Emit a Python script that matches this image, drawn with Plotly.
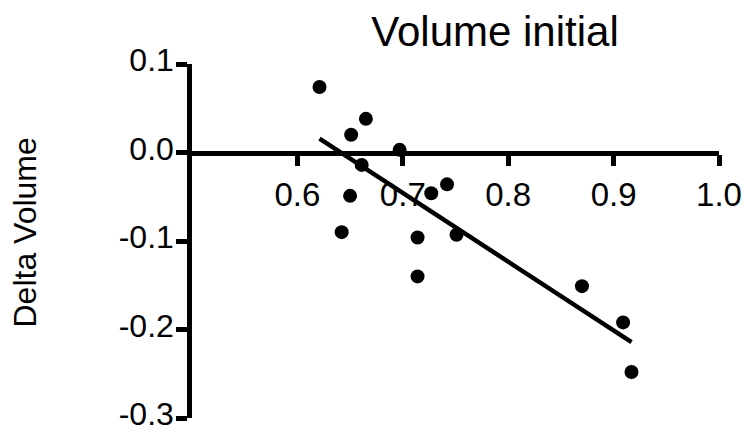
import numpy as np
import plotly.graph_objects as go

# Data
volume_initial = [0.621, 0.665, 0.651, 0.697, 0.661, 0.650, 0.727, 0.742,
                  0.642, 0.714, 0.751, 0.714, 0.870, 0.909, 0.917]
delta_volume = [0.074, 0.038, 0.020, 0.003, -0.014, -0.049, -0.046, -0.036,
                -0.090, -0.096, -0.093, -0.140, -0.151, -0.192, -0.248]

x_tickvals = [0.6, 0.7, 0.8, 0.9, 1.0]
x_ticktext = ["0.6", "0.7", "0.8", "0.9", "1.0"]
y_tickvals = [-0.3, -0.2, -0.1, 0.0, 0.1]
y_ticktext = ["-0.3", "-0.2", "-0.1", "0.0", "0.1"]

title_text = "Volume initial"
y_title_text = "Delta Volume"

# Linear regression fit across the observed x span
xs = np.array(volume_initial)
ys = np.array(delta_volume)
slope, intercept = np.polyfit(xs, ys, 1)
fit_x = np.array([xs.min(), xs.max()])
fit_y = slope * fit_x + intercept

FONT = "Liberation Sans, Arial, Helvetica, sans-serif"

fig = go.Figure()
fig.add_trace(go.Scatter(
    x=fit_x, y=fit_y, mode="lines",
    line=dict(color="black", width=4.5),
    showlegend=False, hoverinfo="skip",
))
fig.add_trace(go.Scatter(
    x=volume_initial, y=delta_volume, mode="markers",
    marker=dict(color="black", size=14, line=dict(width=0)),
    showlegend=False,
))

fig.update_layout(
    width=746, height=430,
    margin=dict(l=192, r=27, t=64, b=12, autoexpand=False),
    paper_bgcolor="white", plot_bgcolor="white",
    font=dict(family=FONT, color="black"),
    title=dict(
        text=title_text, font=dict(size=42, family=FONT, color="black"),
        xref="paper", x=0.575, xanchor="center",
        yref="container", y=1 - 31 / 430, yanchor="middle",
    ),
    xaxis=dict(
        range=[0.5, 1.0], anchor="free", position=0.75,
        showline=True, linecolor="black", linewidth=4.5,
        ticks="outside", ticklen=11, tickwidth=4.5, tickcolor="black",
        tickvals=x_tickvals, ticktext=x_ticktext,
        tickfont=dict(size=33, family=FONT, color="black"),
        ticklabeloverflow="allow", automargin=False,
        showgrid=False, zeroline=False,
    ),
    yaxis=dict(
        range=[-0.3, 0.1], domain=[0, 1],
        showline=True, linecolor="black", linewidth=4.5,
        ticks="outside", ticklen=11, tickwidth=4.5, tickcolor="black",
        tickvals=y_tickvals, ticktext=y_ticktext,
        tickfont=dict(size=32, family=FONT, color="black"),
        ticklabeloverflow="allow", ticklabelstandoff=-4, ticklabelshift=-4,
        automargin=False,
        showgrid=False, zeroline=False,
    ),
    annotations=[dict(
        text=y_title_text, textangle=-90,
        xref="paper", yref="paper",
        x=(24 - 192) / 527, y=1 - (232.5 - 64) / 354,
        xanchor="center", yanchor="middle", showarrow=False,
        font=dict(size=32, family=FONT, color="black"),
    )],
)

fig.write_html(
    "out.html",
    config={"displayModeBar": False},
    post_script="document.body.style.margin='0';document.body.style.overflow='hidden';",
)
